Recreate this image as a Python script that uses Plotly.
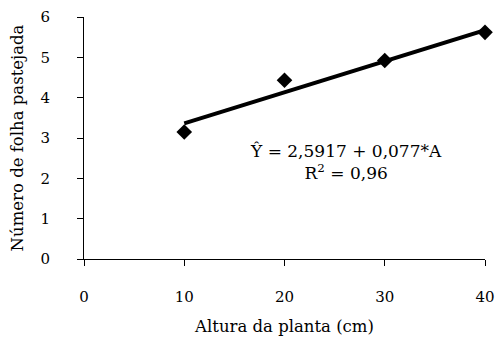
import plotly.graph_objects as go

altura = [10, 20, 30, 40]
folhas = [3.15, 4.43, 4.92, 5.62]
intercept = 2.5917
slope = 0.077
fit_x = [10, 40]
fit_y = [intercept + slope * x for x in fit_x]

x_ticks = [0, 10, 20, 30, 40]
y_ticks = [0, 1, 2, 3, 4, 5, 6]

FONT = "DejaVu Serif"

fig = go.Figure()
fig.add_trace(go.Scatter(
    x=fit_x, y=fit_y, mode="lines",
    line=dict(color="black", width=4), hoverinfo="skip", showlegend=False,
    cliponaxis=False))
fig.add_trace(go.Scatter(
    x=altura, y=folhas, mode="markers",
    marker=dict(symbol="diamond", size=12, color="black"), showlegend=False,
    cliponaxis=False))

fig.add_annotation(
    x=26.1, y=2.4, xref="x", yref="y",
    text="Ŷ = 2,5917 + 0,077*A<br>R<sup>2</sup> = 0,96",
    showarrow=False, align="center",
    font=dict(family=FONT, size=17, color="black"))

fig.update_layout(
    width=496, height=340,
    margin=dict(l=84, r=11, t=17, b=81),
    paper_bgcolor="white", plot_bgcolor="white",
    font=dict(family=FONT, size=15, color="black"),
    xaxis=dict(
        range=[0, 40], tickvals=x_ticks, showgrid=False, zeroline=False,
        automargin=False,
        showline=True, linecolor="black", linewidth=1,
        ticks="outside", ticklen=6, tickcolor="black",
        ticklabelstandoff=18,
        tickfont=dict(family=FONT, size=15, color="black"),
        title=dict(text="Altura da planta (cm)", standoff=15,
                   font=dict(family=FONT, size=16.5, color="black"))),
    yaxis=dict(
        range=[0, 6], tickvals=y_ticks, showgrid=False, zeroline=False,
        automargin=False,
        showline=True, linecolor="black", linewidth=1,
        ticks="outside", ticklen=6, tickcolor="black",
        ticklabelstandoff=24,
        tickfont=dict(family=FONT, size=15, color="black"),
        title=dict(text="Número de folha pastejada", standoff=12,
                   font=dict(family=FONT, size=16.5, color="black"))),
)

fig.write_html("out.html")
